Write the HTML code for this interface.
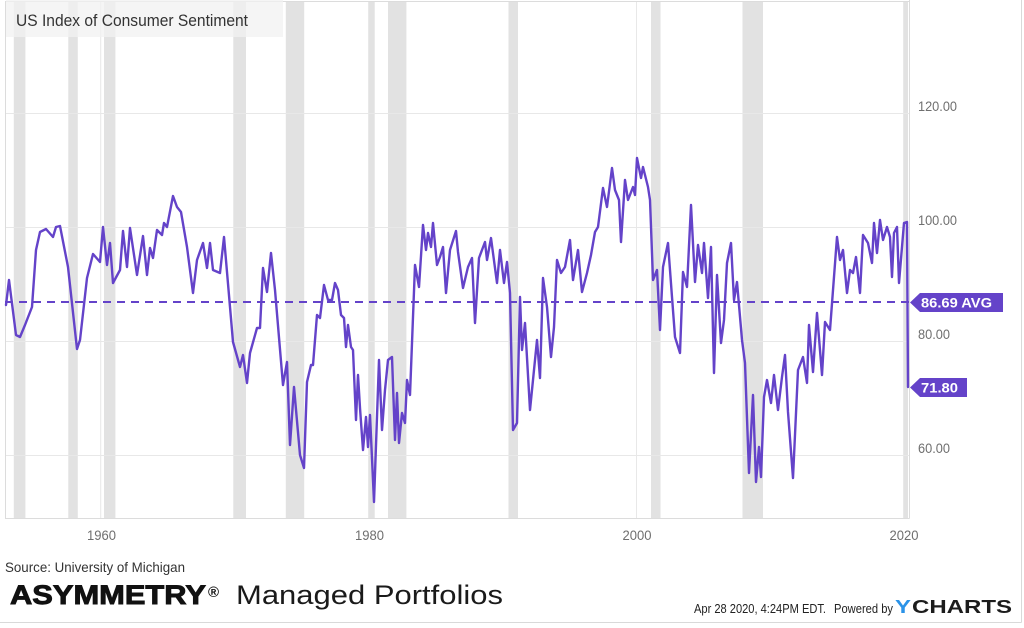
<!DOCTYPE html>
<html>
<head>
<meta charset="utf-8">
<style>
  html,body{margin:0;padding:0;background:#fff;}
  svg{display:block;}
</style>
</head>
<body>
<svg width="1024" height="628" viewBox="0 0 1024 628" xmlns="http://www.w3.org/2000/svg" font-family="'Liberation Sans', sans-serif">
  <rect x="0" y="0" width="1024" height="628" fill="#ffffff"/>
  <line x1="1021.5" y1="0" x2="1021.5" y2="622.5" stroke="#d9d9d9" stroke-width="1"/>
  <line x1="0" y1="622.5" x2="1021.5" y2="622.5" stroke="#d9d9d9" stroke-width="1"/>

  <g fill="#e2e2e2">
    <rect x="13.8" y="1" width="11.6" height="517"/>
    <rect x="68.3" y="1" width="9.5" height="517"/>
    <rect x="104" y="1" width="11.4" height="517"/>
    <rect x="233.3" y="1" width="12.7" height="517"/>
    <rect x="285.8" y="1" width="18.4" height="517"/>
    <rect x="368" y="1" width="6.7" height="517"/>
    <rect x="388" y="1" width="18.4" height="517"/>
    <rect x="508.5" y="1" width="9.5" height="517"/>
    <rect x="651" y="1" width="9.5" height="517"/>
    <rect x="742.5" y="1" width="20.5" height="517"/>
    <rect x="904" y="1" width="4" height="517"/>
  </g>

  <g stroke="#e8e8e8" stroke-width="1">
    <line x1="5" y1="113.5" x2="909" y2="113.5"/>
    <line x1="5" y1="227.5" x2="909" y2="227.5"/>
    <line x1="5" y1="341.5" x2="909" y2="341.5"/>
    <line x1="5" y1="455.5" x2="909" y2="455.5"/>
    <line x1="100.7" y1="1" x2="100.7" y2="518"/>
    <line x1="368.5" y1="1" x2="368.5" y2="518"/>
    <line x1="636.5" y1="1" x2="636.5" y2="518"/>
    <line x1="903.5" y1="1" x2="903.5" y2="518"/>
  </g>
  <g stroke="#dcdcdc" stroke-width="1" fill="none">
    <line x1="5.5" y1="1.5" x2="909" y2="1.5"/>
    <line x1="5.5" y1="1" x2="5.5" y2="518.5"/>
    <line x1="909.5" y1="0" x2="909.5" y2="518.5"/>
    <line x1="5" y1="518.5" x2="909.5" y2="518.5"/>
  </g>

  <rect x="6" y="0" width="277" height="37" fill="#f2f2f2" fill-opacity="0.75"/>
  <text x="16" y="26" font-size="17" fill="#333" textLength="232" lengthAdjust="spacingAndGlyphs">US Index of Consumer Sentiment</text>

  <line x1="5" y1="302" x2="909" y2="302" stroke="#6443c9" stroke-width="2" stroke-dasharray="8,6"/>

  <polyline fill="none" stroke="#6443c9" stroke-width="2.4" stroke-linejoin="round" stroke-linecap="round" points="
6,305 9,280 16,335 20,337 25,325 32,307 36,250 40,232 46,229 53,237 56,227 60,226 68,267 77,349 80,340 87,278 93,254 100,262 103,227 107,265 110,243 113,283 120,270 123,231 127,267 130,228 137,275 143,236 147,275 150,248 153,258 157,230 162,235 164,223 167,227 173,196 177,207 181,212 187,247 193,293 197,260 203,243 207,268 210,243 213,270 220,273 224,237 233,342 240,367 243,355 247,383 250,353 257,328 260,328 263,268 267,292 271,253 275,290 283,385 287,362 290,445 294,387 300,455 304,468 307,382 311,365 313,365 317,315 320,318 324,285 328,300 332,300 335,283 338,290 341,315 344,318 346,347 348,325 351,347 353,350 356,420 358,375 360,408 363,450 366,417 368,447 370,415 374,502 379,360 382,430 385,390 388,360 392,357 395,440 397,393 399,443 402,413 405,423 407,380 410,395 415,265 419,287 423,225 426,250 428,233 431,247 433,223 437,265 440,257 443,247 446,293 450,250 456,231 458,252 463,288 468,267 472,258 475,323 479,258 485,242 487,260 491,238 497,283 500,250 504,283 507,262 510,293 513,430 517,423 520,297 522,350 525,323 530,410 537,340 540,378 543,278 547,307 551,357 554,327 557,260 561,273 565,267 570,240 573,280 578,250 582,292 587,273 591,255 595,232 598,227 603,188 607,207 612,168 615,190 619,200 621,242 625,180 628,200 633,187 635,195 637,158 641,178 643,167 648,187 650,200 653,280 657,270 660,330 663,267 668,243 672,297 675,337 680,353 683,272 687,287 691,205 695,282 698,245 702,273 704,243 708,298 711,247 714,373 717,275 721,343 724,320 727,263 731,243 734,300 737,282 742,340 745,363 749,473 753,395 756,482 759,447 761,477 764,397 767,380 771,403 774,375 778,410 782,377 785,355 788,412 793,478 798,370 803,357 807,383 809,325 813,372 817,313 822,375 825,322 830,330 837,237 840,260 843,250 847,293 850,270 853,273 856,257 860,293 863,235 868,243 872,263 874,223 877,253 880,220 883,240 887,227 890,237 892,277 894,233 897,227 899,283 904,223 907,222 908,387"/>

  <g font-size="14" fill="#6f6f6f">
    <text x="918" y="111" textLength="39" lengthAdjust="spacingAndGlyphs">120.00</text>
    <text x="918" y="225" textLength="39" lengthAdjust="spacingAndGlyphs">100.00</text>
    <text x="918" y="339" textLength="32" lengthAdjust="spacingAndGlyphs">80.00</text>
    <text x="918" y="453" textLength="32" lengthAdjust="spacingAndGlyphs">60.00</text>
  </g>

  <path d="M910,302.5 L920,293 L1003,293 L1003,312 L920,312 Z" fill="#6443c9"/>
  <text x="921" y="307.5" font-size="13.5" font-weight="bold" fill="#fff" textLength="71" lengthAdjust="spacingAndGlyphs">86.69 AVG</text>
  <path d="M910,387.5 L920,378 L967,378 L967,397 L920,397 Z" fill="#6443c9"/>
  <text x="921" y="392.5" font-size="13.5" font-weight="bold" fill="#fff" textLength="37" lengthAdjust="spacingAndGlyphs">71.80</text>

  <g font-size="14" fill="#6f6f6f" text-anchor="middle">
    <text x="101.5" y="540" textLength="29" lengthAdjust="spacingAndGlyphs">1960</text>
    <text x="369.5" y="540" textLength="29" lengthAdjust="spacingAndGlyphs">1980</text>
    <text x="637" y="540" textLength="29" lengthAdjust="spacingAndGlyphs">2000</text>
    <text x="904" y="540" textLength="29" lengthAdjust="spacingAndGlyphs">2020</text>
  </g>

  <text x="5" y="572" font-size="14" fill="#333" textLength="180" lengthAdjust="spacingAndGlyphs">Source: University of Michigan</text>
  <text x="10" y="604" font-size="27" font-weight="bold" fill="#111" stroke="#111" stroke-width="0.9" textLength="196" lengthAdjust="spacingAndGlyphs">ASYMMETRY</text>
  <text x="208" y="597" font-size="15" font-weight="bold" fill="#111">®</text>
  <text x="236" y="604" font-size="27" fill="#1a1a1a" textLength="267" lengthAdjust="spacingAndGlyphs">Managed Portfolios</text>

  <text x="694" y="613" font-size="13" fill="#222" textLength="132" lengthAdjust="spacingAndGlyphs">Apr 28 2020, 4:24PM EDT.</text>
  <text x="834" y="613" font-size="13" fill="#222" textLength="59" lengthAdjust="spacingAndGlyphs">Powered by</text>
  <text x="895" y="613" font-size="18.5" font-weight="bold" fill="#2b93e8" textLength="16" lengthAdjust="spacingAndGlyphs">Y</text>
  <text x="912" y="613" font-size="18.5" font-weight="bold" fill="#1c1c1c" textLength="100" lengthAdjust="spacingAndGlyphs">CHARTS</text>
</svg>
</body>
</html>
